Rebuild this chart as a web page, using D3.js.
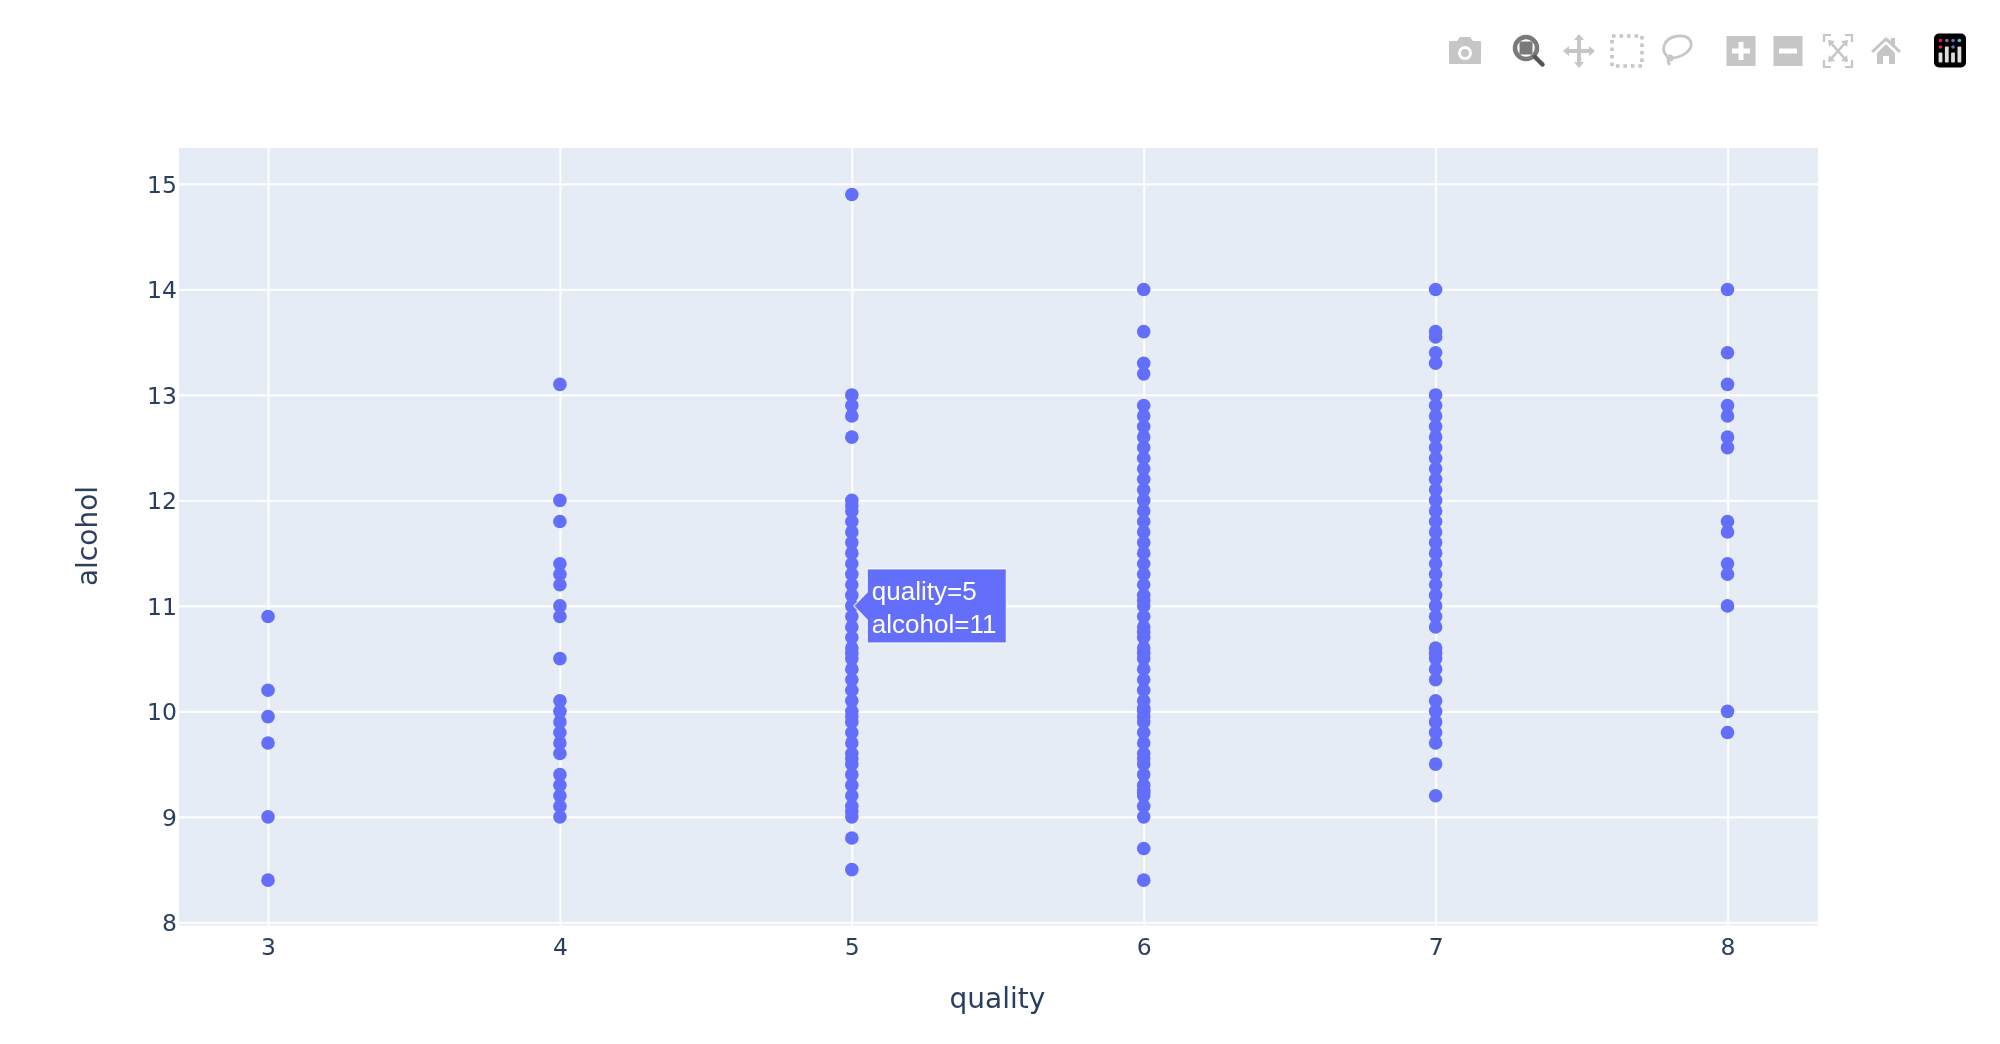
<!DOCTYPE html>
<html>
<head>
<meta charset="utf-8">
<script src="https://cdn.jsdelivr.net/npm/d3@7/dist/d3.min.js"></script>
<style>
html,body{margin:0;padding:0;background:#fff;overflow:hidden}
svg{display:block;filter:blur(0.6px)}
</style>
</head>
<body>
<svg id="chart" width="2000" height="1044"></svg>
<script>
const qualityTicks = [3,4,5,6,7,8];
const alcoholTicks = [8,9,10,11,12,13,14,15];
const alcoholQ3 = [8.4,9,9.7,9.95,10.2,10.9];
const alcoholQ4 = [9,9.1,9.2,9.3,9.4,9.6,9.7,9.8,9.9,10,10.1,10.5,10.9,11,11.2,11.3,11.4,11.8,12,13.1];
const alcoholQ5 = [8.5,8.8,9,9.05,9.1,9.2,9.3,9.4,9.5,9.55,9.6,9.7,9.8,9.9,9.95,10,10.1,10.2,10.3,10.4,10.5,10.55,10.6,10.7,10.8,10.9,11,11.1,11.2,11.3,11.4,11.5,11.6,11.7,11.8,11.9,11.95,12,12.6,12.8,12.9,13,14.9];
const alcoholQ6 = [8.4,8.7,9,9.1,9.2,9.23,9.25,9.3,9.4,9.5,9.55,9.6,9.7,9.8,9.9,9.95,10,10.03,10.1,10.2,10.3,10.4,10.5,10.55,10.6,10.7,10.75,10.8,10.9,11,11.05,11.1,11.2,11.3,11.4,11.5,11.6,11.7,11.8,11.9,12,12.1,12.2,12.3,12.4,12.5,12.6,12.7,12.8,12.9,13.2,13.3,13.6,14];
const alcoholQ7 = [9.2,9.5,9.7,9.8,9.9,10,10.1,10.3,10.4,10.5,10.55,10.6,10.8,10.9,11,11.1,11.2,11.3,11.4,11.5,11.6,11.7,11.8,11.9,12,12.1,12.2,12.3,12.4,12.5,12.6,12.7,12.8,12.9,13,13.3,13.4,13.55,13.6,14];
const alcoholQ8 = [9.8,10,11,11.3,11.4,11.7,11.8,12.5,12.6,12.8,12.9,13.1,13.4,14];
const qualityLevels = [3,4,5,6,7,8];
const alcoholSeries = [alcoholQ3,alcoholQ4,alcoholQ5,alcoholQ6,alcoholQ7,alcoholQ8];
const xTitle = "quality", yTitle = "alcohol";
const hoverPoint = [5, 11];

const plot = {left:179, right:1818, top:148, bottom:925.5};
const ink = "#2a3f5f", markerColor = "#636efa", tickFont = "DejaVu Sans, Verdana, sans-serif";

const x = d3.scaleLinear().domain([2.695,8.31]).range([plot.left,plot.right]);
const y = d3.scaleLinear().domain([7.97,15.341]).range([plot.bottom,plot.top]);

const svg = d3.select("#chart");
svg.append("rect").attr("width",2000).attr("height",1044).attr("fill","#fff");
svg.append("rect").attr("x",plot.left).attr("y",plot.top)
  .attr("width",plot.right-plot.left).attr("height",plot.bottom-plot.top).attr("fill","#E5ECF6");

const xAxis = d3.axisBottom(x).tickValues(qualityTicks).tickFormat(d3.format("d"))
  .tickSize(-(plot.bottom-plot.top)).tickPadding(0);
const yAxis = d3.axisLeft(y).tickValues(alcoholTicks).tickFormat(d3.format("d"))
  .tickSize(-(plot.right-plot.left)).tickPadding(0);

const gx = svg.append("g").attr("transform",`translate(0,${plot.bottom})`).call(xAxis);
const gy = svg.append("g").attr("transform",`translate(${plot.left},0)`).call(yAxis);
[gx,gy].forEach(g=>{
  g.select(".domain").remove();
  g.selectAll("line").attr("stroke","#fff").attr("stroke-width",2.2).attr("stroke-opacity",0.9);
  g.selectAll("text").attr("fill",ink).attr("font-family",tickFont).attr("font-size",23.5);
});
gx.selectAll("text").attr("y",12.5).attr("dy","0.71em");
gy.selectAll("text").attr("x",-2).attr("dy","0.36em");

const points = alcoholSeries.flatMap((vals,i)=>vals.map(v=>({q:qualityLevels[i],a:v})));
svg.append("g").selectAll("circle").data(points).join("circle")
  .attr("cx",d=>x(d.q)).attr("cy",d=>y(d.a)).attr("r",6.8).attr("fill",markerColor);

svg.append("text").attr("x",(plot.left+plot.right)/2-1).attr("y",1008).attr("text-anchor","middle")
  .attr("fill",ink).attr("font-family",tickFont).attr("font-size",28).text(xTitle);
svg.append("text").attr("transform","translate(97,536) rotate(-90)").attr("text-anchor","middle")
  .attr("fill",ink).attr("font-family",tickFont).attr("font-size",28).text(yTitle);

// Hover label
const hx = x(hoverPoint[0]), hy = y(hoverPoint[1]);
const hover = svg.append("g").attr("transform",`translate(${hx},${hy})`);
hover.append("path")
  .attr("d","M2,0 L15.5,-14 L15.5,-37 L154.5,-37 L154.5,37 L15.5,37 L15.5,14 Z")
  .attr("fill",markerColor).attr("stroke","#fff").attr("stroke-opacity",0.75).attr("stroke-width",1.3);
const hoverText = hover.append("g").attr("fill","#fff").attr("font-family","Liberation Sans, Arial, sans-serif").attr("font-size",26);
hoverText.append("text").attr("x",20).attr("y",-6).text(`quality=${hoverPoint[0]}`);
hoverText.append("text").attr("x",20).attr("y",27).text(`alcohol=${hoverPoint[1]}`);

// Modebar
const bar = svg.append("g");
const off = "#c6c6c6", on = "#7a7a7a";
function at(cx,cy){return bar.append("g").attr("transform",`translate(${cx},${cy})`);}

// camera
let g = at(1465,51);
g.append("path").attr("fill",off).attr("fill-rule","evenodd")
 .attr("d","M-15,-10 L-8,-10 L-5,-14 L5,-14 L8,-10 L15,-10 Q16,-10 16,-9 L16,12 Q16,13 15,13 L-15,13 Q-16,13 -16,12 L-16,-9 Q-16,-10 -15,-10 Z M0,-5 A7,7 0 1 0 0,9 A7,7 0 1 0 0,-5 Z");
g.append("circle").attr("cx",0).attr("cy",2).attr("r",4).attr("fill",off);

// zoom (active)
g = at(1526,48);
g.append("circle").attr("cx",0).attr("cy",0).attr("r",11).attr("fill","none").attr("stroke",on).attr("stroke-width",4.5);
g.append("rect").attr("x",-6.5).attr("y",-6.5).attr("width",13).attr("height",13).attr("fill",on);
g.append("line").attr("x1",9).attr("y1",9).attr("x2",16.5).attr("y2",16.5).attr("stroke","#555").attr("stroke-width",4.5).attr("stroke-linecap","round");

// pan
g = at(1579,51);
g.append("path").attr("fill",off)
 .attr("d","M0,-17 L5,-11 L2,-11 L2,-2 L10,-2 L10,-5 L16,0 L10,5 L10,2 L2,2 L2,11 L5,11 L0,17 L-5,11 L-2,11 L-2,2 L-10,2 L-10,5 L-16,0 L-10,-5 L-10,-2 L-2,-2 L-2,-11 L-5,-11 Z");

// box select
g = at(1627,51);
g.append("rect").attr("x",-15).attr("y",-15).attr("width",30).attr("height",30)
 .attr("fill","none").attr("stroke",off).attr("stroke-width",3.6).attr("stroke-dasharray","3.6 3.9");

// lasso
g = at(1676,50);
g.append("path").attr("fill","none").attr("stroke",off).attr("stroke-width",2.8)
 .attr("d","M-6,8 C-16,4 -15,-12 2,-14 C16,-15 19,-4 10,3 C5,7 -1,8 -6,8 C-9,9 -8,13 -6,15");
g.append("circle").attr("cx",-6).attr("cy",8).attr("r",2.5).attr("fill","none").attr("stroke",off).attr("stroke-width",2);

// zoom in
g = at(1741,51);
g.append("path").attr("fill",off).attr("fill-rule","evenodd")
 .attr("d","M-14.5,-15 H14.5 V15 H-14.5 Z M-2.5,-9 V-2.5 H-9 V2.5 H-2.5 V9 H2.5 V2.5 H9 V-2.5 H2.5 V-9 Z");

// zoom out
g = at(1788,51);
g.append("path").attr("fill",off).attr("fill-rule","evenodd")
 .attr("d","M-14.5,-15 H14.5 V15 H-14.5 Z M-9,-2.5 V2.5 H9 V-2.5 Z");

// autoscale
g = at(1838,51);
g.append("path").attr("fill","none").attr("stroke",off).attr("stroke-width",2.2)
 .attr("d","M-14,-9 V-16 H-7 M7,-16 H14 V-9 M14,9 V16 H7 M-7,16 H-14 V9");
g.append("path").attr("fill","none").attr("stroke",off).attr("stroke-width",2.6)
 .attr("d","M-8,-9 L8,9 M8,-9 L-8,9");
g.append("path").attr("fill",off).attr("d","M-10,-11 L-3,-10 L-9,-4 Z M10,-11 L3,-10 L9,-4 Z M-10,11 L-3,10 L-9,4 Z M10,11 L3,10 L9,4 Z");

// home
g = at(1886,51);
g.append("path").attr("fill",off)
 .attr("d","M0,-14 L5,-10 L5,-13 L9,-13 L9,-6 L15,0 L13,2 L0,-10 L-13,2 L-15,0 Z M-9,2 L0,-7 L9,2 L9,13 L3,13 L3,5 L-3,5 L-3,13 L-9,13 Z");

// logo
g = at(1950,50.5);
g.append("rect").attr("x",-16).attr("y",-17).attr("width",32).attr("height",34).attr("rx",5).attr("fill","#000");
const logoColors = ["#e6195f","#9b5fb4","#6e6ebe","#3cc8e0"];
logoColors.forEach((c,i)=>g.append("circle").attr("cx",-9.5+i*6.3).attr("cy",-10).attr("r",1.8).attr("fill",c));
g.append("circle").attr("cx",-9.5).attr("cy",-3.5).attr("r",1.8).attr("fill","#e6195f");
g.append("circle").attr("cx",3).attr("cy",-3.5).attr("r",1.8).attr("fill","#6e6ebe");
[[-9.5,2,10],[-3.2,-4,16],[3,2,10],[9.4,-4,16]].forEach(([bx,by,h])=>
  g.append("rect").attr("x",bx-1.9).attr("y",by).attr("width",3.8).attr("height",h).attr("rx",1).attr("fill","#ddd"));
</script>
</body>
</html>
